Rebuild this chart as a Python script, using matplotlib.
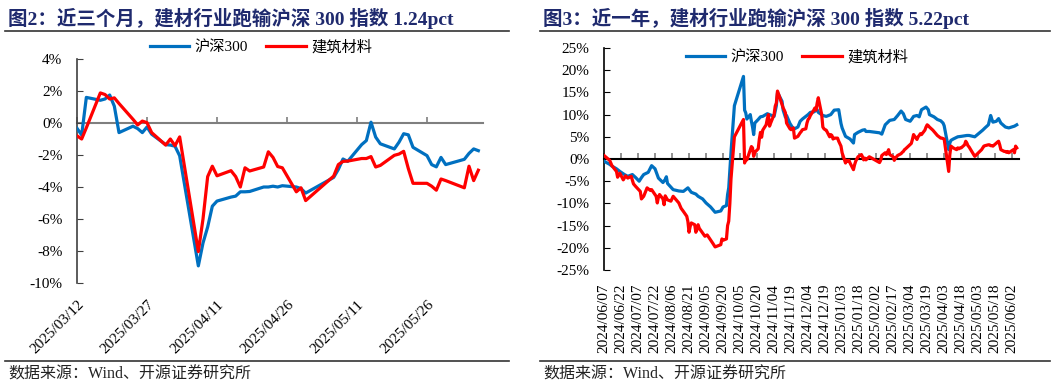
import matplotlib
matplotlib.use('Agg')
import matplotlib.pyplot as plt
from matplotlib.lines import Line2D
import matplotlib.dates as mdates
import pandas as pd
import numpy as np

plt.rcParams['font.family'] = ['Liberation Serif', 'Noto Sans CJK SC']
plt.rcParams['axes.unicode_minus'] = False

BLUE = '#0070C0'
RED = '#FF0000'
NAVY = '#1f2a6e'

# ---- 图2 近三个月 (%) ----
dates_3m = ['2025-03-12', '2025-03-13', '2025-03-14', '2025-03-17', '2025-03-18', '2025-03-19',
            '2025-03-20', '2025-03-21', '2025-03-24', '2025-03-25', '2025-03-26', '2025-03-27',
            '2025-03-28', '2025-03-31', '2025-04-01', '2025-04-02', '2025-04-03', '2025-04-07',
            '2025-04-08', '2025-04-09', '2025-04-10', '2025-04-11', '2025-04-14', '2025-04-15',
            '2025-04-16', '2025-04-17', '2025-04-18', '2025-04-21', '2025-04-22', '2025-04-23',
            '2025-04-24', '2025-04-25', '2025-04-28', '2025-04-29', '2025-04-30', '2025-05-06',
            '2025-05-07', '2025-05-08', '2025-05-09', '2025-05-12', '2025-05-13', '2025-05-14',
            '2025-05-15', '2025-05-16', '2025-05-19', '2025-05-20', '2025-05-21', '2025-05-22',
            '2025-05-23', '2025-05-26', '2025-05-27', '2025-05-28', '2025-05-29', '2025-05-30',
            '2025-06-03', '2025-06-04', '2025-06-05', '2025-06-06']
hs300_3m = [-0.33, -0.75, 1.6, 1.42, 1.5, 1.75, 1.05, -0.6, -0.2, -0.35, -0.6, -0.25, -0.7, -1.35,
            -1.38, -1.45, -2.05, -8.93, -7.5, -6.5, -5.2, -4.88, -4.63, -4.57, -4.3, -4.3, -4.28,
            -4.0, -4.0, -3.95, -4.0, -3.92, -4.0, -4.1, -4.38,
            -3.4, -2.9, -2.25, -2.4, -1.35, -1.1, 0.05, -0.88, -1.3, -1.62, -1.2, -0.67, -0.74,
            -1.52, -2.04, -2.6, -2.74, -2.15, -2.6, -2.27, -1.9, -1.62, -1.73]
jc_3m = [-0.8, -1.0, -0.3, 1.88, 1.78, 1.5, 1.57, 1.22, 0.23, -0.12, 0.12, 0.02, -0.6, -1.38,
         -1.0, -1.42, -0.87, -8.04, -6.0, -3.35, -2.7, -3.3, -2.98, -3.35, -4.0, -2.8, -3.0,
         -2.75, -1.8, -2.15, -2.72, -2.8, -4.3, -4.05, -4.85,
         -3.32, -2.6, -2.4, -2.38, -2.22, -2.22, -2.1, -2.75, -2.65, -2.02, -1.94, -1.77, -2.85,
         -3.77, -3.77, -3.95, -4.2, -3.5, -3.6, -4.05, -2.7, -3.6, -2.95]

# ---- 图3 近一年 (%) ----
hs_dates_1y = ['2024-06-07', '2024-06-12', '2024-06-14', '2024-06-18', '2024-06-20', '2024-06-21',
               '2024-06-25', '2024-06-28', '2024-07-02', '2024-07-05', '2024-07-08', '2024-07-10',
               '2024-07-12', '2024-07-16', '2024-07-19', '2024-07-22', '2024-07-24', '2024-07-25',
               '2024-07-29', '2024-07-31', '2024-08-01', '2024-08-02', '2024-08-07', '2024-08-12',
               '2024-08-16', '2024-08-20', '2024-08-23', '2024-08-27', '2024-08-29', '2024-09-02',
               '2024-09-05', '2024-09-09', '2024-09-11', '2024-09-13', '2024-09-18', '2024-09-20',
               '2024-09-23', '2024-09-24', '2024-09-25', '2024-09-26', '2024-09-27', '2024-09-30',
               '2024-10-08', '2024-10-09', '2024-10-10', '2024-10-11', '2024-10-14', '2024-10-15',
               '2024-10-16', '2024-10-17', '2024-10-18', '2024-10-21', '2024-10-23', '2024-10-25',
               '2024-10-29', '2024-10-31', '2024-11-04', '2024-11-06', '2024-11-07', '2024-11-08',
               '2024-11-11', '2024-11-12', '2024-11-14', '2024-11-15', '2024-11-18', '2024-11-20',
               '2024-11-22', '2024-11-25', '2024-11-27', '2024-11-29', '2024-12-02', '2024-12-04',
               '2024-12-06', '2024-12-09', '2024-12-12', '2024-12-13', '2024-12-17', '2024-12-20',
               '2024-12-24', '2024-12-27', '2024-12-31', '2025-01-02', '2025-01-03', '2025-01-06',
               '2025-01-08', '2025-01-10', '2025-01-13', '2025-01-14', '2025-01-17', '2025-01-21',
               '2025-01-23', '2025-01-24', '2025-01-27', '2025-02-05', '2025-02-07', '2025-02-10',
               '2025-02-14', '2025-02-18', '2025-02-21', '2025-02-24', '2025-02-26', '2025-02-28',
               '2025-03-04', '2025-03-06', '2025-03-07', '2025-03-10', '2025-03-12', '2025-03-14',
               '2025-03-18', '2025-03-20', '2025-03-21', '2025-03-25', '2025-03-28', '2025-03-31',
               '2025-04-02', '2025-04-03', '2025-04-07', '2025-04-08', '2025-04-09', '2025-04-11',
               '2025-04-15', '2025-04-18', '2025-04-23', '2025-04-25', '2025-04-30', '2025-05-07',
               '2025-05-09', '2025-05-12', '2025-05-14', '2025-05-15', '2025-05-16', '2025-05-19',
               '2025-05-21', '2025-05-23', '2025-05-27', '2025-05-30', '2025-06-04', '2025-06-06']
hs300_1y = [-0.5, -1.2, -1.6, -2.2, -2.6, -2.8, -3.5, -3.9, -3.5, -4.2, -5.0, -4.2,
            -3.5, -3.0, -1.5, -2.2, -3.6, -4.3, -5.3, -4.6, -4.0, -5.5, -6.9, -7.2,
            -7.3, -6.5, -7.5, -7.9, -8.4, -9.0, -9.9, -10.8, -11.4, -12.0, -11.7, -10.8,
            -10.5, -8.0, -6.5, -2.5, 1.5, 12.0, 18.6, 11.0, 10.4, 9.0, 10.0, 8.5,
            7.2, 5.5, 8.1, 8.9, 9.5, 9.6, 10.2, 10.0, 9.6, 12.0, 14.9, 14.5,
            13.0, 11.0, 9.4, 9.8, 8.0, 7.2, 6.8, 7.2, 8.5, 9.0, 9.6, 10.0,
            10.5, 10.6, 11.1, 10.5, 9.8, 9.6, 10.0, 11.0, 11.1, 8.0, 7.0, 5.1,
            4.8, 4.5, 3.6, 5.5, 6.0, 6.5, 6.6, 6.2, 6.2, 5.9, 5.6, 7.7,
            8.7, 8.9, 9.8, 10.8, 10.2, 8.9, 8.5, 9.2, 9.6, 9.8, 9.5, 11.1,
            11.7, 11.1, 10.0, 9.5, 8.9, 8.6, 8.1, 7.5, 2.1, 3.6, 4.2, 4.5,
            5.0, 5.1, 5.3, 5.3, 5.0, 6.5, 7.0, 7.7, 9.8, 9.0, 8.3, 8.5,
            9.1, 8.1, 7.2, 7.0, 7.4, 7.7]

jc_dates_1y = ['2024-06-07', '2024-06-12', '2024-06-14', '2024-06-18', '2024-06-19', '2024-06-21',
               '2024-06-24', '2024-06-26', '2024-06-28', '2024-07-01', '2024-07-03', '2024-07-05',
               '2024-07-09', '2024-07-10', '2024-07-12', '2024-07-15', '2024-07-18', '2024-07-19',
               '2024-07-23', '2024-07-24', '2024-07-25', '2024-07-26', '2024-07-29', '2024-07-30',
               '2024-07-31', '2024-08-02', '2024-08-05', '2024-08-07', '2024-08-09', '2024-08-12',
               '2024-08-14', '2024-08-16', '2024-08-19', '2024-08-20', '2024-08-21', '2024-08-22',
               '2024-08-23', '2024-08-26', '2024-08-27', '2024-08-28', '2024-08-29', '2024-08-30',
               '2024-09-02', '2024-09-04', '2024-09-06', '2024-09-10', '2024-09-11', '2024-09-13',
               '2024-09-18', '2024-09-19', '2024-09-20', '2024-09-23', '2024-09-24', '2024-09-25',
               '2024-09-26', '2024-09-27', '2024-09-30', '2024-10-08', '2024-10-09', '2024-10-10',
               '2024-10-11', '2024-10-14', '2024-10-15', '2024-10-16', '2024-10-17', '2024-10-18',
               '2024-10-21', '2024-10-22', '2024-10-23', '2024-10-24', '2024-10-25', '2024-10-28',
               '2024-10-29', '2024-10-30', '2024-10-31', '2024-11-01', '2024-11-04', '2024-11-05',
               '2024-11-06', '2024-11-07', '2024-11-08', '2024-11-11', '2024-11-12', '2024-11-13',
               '2024-11-14', '2024-11-15', '2024-11-18', '2024-11-19', '2024-11-20', '2024-11-21',
               '2024-11-22', '2024-11-25', '2024-11-26', '2024-11-27', '2024-11-28', '2024-11-29',
               '2024-12-02', '2024-12-03', '2024-12-04', '2024-12-05', '2024-12-06', '2024-12-09',
               '2024-12-10', '2024-12-11', '2024-12-12', '2024-12-13', '2024-12-16', '2024-12-17',
               '2024-12-18', '2024-12-19', '2024-12-20', '2024-12-23', '2024-12-24', '2024-12-25',
               '2024-12-26', '2024-12-27', '2024-12-30', '2024-12-31', '2025-01-02', '2025-01-03',
               '2025-01-06', '2025-01-07', '2025-01-08', '2025-01-09', '2025-01-10', '2025-01-13',
               '2025-01-14', '2025-01-15', '2025-01-16', '2025-01-17', '2025-01-20', '2025-01-21',
               '2025-01-22', '2025-01-23', '2025-01-24', '2025-01-27', '2025-02-05', '2025-02-06',
               '2025-02-07', '2025-02-10', '2025-02-11', '2025-02-12', '2025-02-13', '2025-02-14',
               '2025-02-17', '2025-02-18', '2025-02-19', '2025-02-20', '2025-02-21', '2025-02-24',
               '2025-02-25', '2025-02-26', '2025-02-27', '2025-02-28', '2025-03-03', '2025-03-04',
               '2025-03-05', '2025-03-06', '2025-03-07', '2025-03-10', '2025-03-11', '2025-03-12',
               '2025-03-13', '2025-03-14', '2025-03-17', '2025-03-18', '2025-03-19', '2025-03-20',
               '2025-03-21', '2025-03-24', '2025-03-26', '2025-03-28', '2025-03-31', '2025-04-01',
               '2025-04-02', '2025-04-03', '2025-04-07', '2025-04-08', '2025-04-09', '2025-04-10',
               '2025-04-11', '2025-04-14', '2025-04-15', '2025-04-16', '2025-04-17', '2025-04-18',
               '2025-04-21', '2025-04-22', '2025-04-23', '2025-04-24', '2025-04-25', '2025-04-28',
               '2025-04-29', '2025-04-30', '2025-05-06', '2025-05-07', '2025-05-08', '2025-05-09',
               '2025-05-12', '2025-05-13', '2025-05-14', '2025-05-15', '2025-05-16', '2025-05-19',
               '2025-05-20', '2025-05-21', '2025-05-22', '2025-05-23', '2025-05-26', '2025-05-27',
               '2025-05-28', '2025-05-29', '2025-05-30', '2025-06-03', '2025-06-04', '2025-06-05',
               '2025-06-06']
jc_1y = [0.8, -0.3, -1.5, -2.8, -4.1, -3.2, -4.7, -3.8, -4.3, -3.9, -5.6, -6.2,
         -7.3, -9.0, -8.4, -6.5, -7.1, -6.9, -8.4, -9.9, -8.6, -8.0, -9.0, -10.3,
         -8.3, -9.2, -9.5, -8.4, -9.0, -9.9, -11.1, -11.8, -12.9, -14.1, -16.5, -15.2,
         -14.4, -14.8, -16.5, -15.9, -14.8, -15.6, -16.7, -17.4, -17.1, -18.6, -19.0, -19.8,
         -19.3, -18.0, -18.3, -18.0, -15.0, -14.0, -10.0, -4.5, 5.0, 8.9, -0.9, 0.2,
         -0.2, 2.1, 2.8, 2.5, 0.6, 1.5, 2.3, 4.5, 6.0, 4.9, 6.5, 7.7,
         9.0, 10.0, 7.4, 8.1, 10.0, 11.9, 12.6, 15.3, 14.6, 12.3, 11.5, 11.0,
         10.4, 8.1, 6.8, 6.6, 6.8, 7.0, 4.7, 5.1, 5.5, 5.9, 6.2, 6.6,
         6.8, 8.1, 8.9, 9.2, 9.8, 11.0, 11.5, 11.0, 12.6, 13.8, 10.0, 7.2,
         6.8, 6.6, 6.5, 5.0, 5.5, 5.3, 4.5, 4.7, 4.7, 4.0, 2.9, 1.4,
         -0.9, -0.3, -0.5, -0.3, -0.9, -2.4, -1.3, -0.5, 0.0, 0.5, 1.0, 0.5,
         -0.2, 0.2, -0.2, 0.5, -0.8, -0.3, 0.8, 1.4, 1.0, 1.5, 2.1, 1.0,
         0.5, -0.3, 0.2, 0.5, 0.8, 1.2, 1.5, 1.7, 2.1, 2.3, 3.0, 3.2,
         3.5, 4.4, 5.5, 4.4, 5.0, 5.3, 5.7, 5.5, 6.5, 7.2, 7.7, 7.5,
         7.2, 6.5, 5.9, 5.3, 4.7, 4.7, 4.6, 4.5, -2.8, 1.0, 2.9, 2.7,
         2.5, 2.1, 2.5, 2.3, 2.5, 2.5, 3.2, 4.0, 3.6, 3.0, 2.7, 1.4,
         1.0, 0.6, 2.1, 2.5, 2.9, 3.0, 3.2, 3.2, 3.0, 3.0, 2.9, 3.6,
         3.8, 4.0, 3.2, 2.1, 1.7, 1.7, 1.5, 1.7, 1.4, 2.1, 1.4, 2.9,
         2.5]

series_names = ['沪深300', '建筑材料']
title_3m = '图2：近三个月，建材行业跑输沪深 300 指数 1.24pct'
title_1y = '图3：近一年，建材行业跑输沪深 300 指数 5.22pct'
source_text = '数据来源：Wind、开源证券研究所'

W, H = 1057, 386


def box(l, t, r, b):
    return [l / W, 1 - b / H, (r - l) / W, (b - t) / H]


def zero_axis(ax, ymin, ymax, ticks, line_color, tick_color):
    # horizontal axis drawn at 0 with upward tick marks
    sec = ax.secondary_xaxis((0 - ymin) / (ymax - ymin))
    sec.set_xticks(mdates.date2num(ticks))
    sec.tick_params(direction='out', length=4, width=1.2, color=tick_color,
                    labeltop=False, labelbottom=False)
    for s in sec.spines.values():
        s.set_color(line_color)
        s.set_linewidth(1.5)
    return sec


fig = plt.figure(figsize=(10.57, 3.86), dpi=100)

# ---------- left chart ----------
ax1 = fig.add_axes(box(77, 59, 483, 283))
d3 = pd.to_datetime(dates_3m)
ax1.plot(d3, hs300_3m, color=BLUE, lw=2.3, label=series_names[0], zorder=3)
ax1.plot(d3, jc_3m, color=RED, lw=2.3, label=series_names[1], zorder=4)
ax1.set_ylim(-10, 4)
ax1.set_yticks(np.arange(-10, 5, 2))
ax1.yaxis.set_major_formatter(lambda v, p: f'{v:.0f}%')
ax1.set_xlim(pd.Timestamp('2025-03-12'), pd.Timestamp('2025-06-07'))
ticks3 = pd.date_range('2025-03-12', periods=6, freq='15D')
ax1.set_xticks(ticks3)
ax1.set_xticklabels([t.strftime('%Y/%m/%d') for t in ticks3], rotation=45,
                    ha='right', va='top', rotation_mode='anchor')
ax1.tick_params(axis='x', length=0, pad=11, labelsize=11)
ax1.tick_params(axis='y', direction='in', length=4, color='#404040', labelsize=11, pad=10.5)
for s in ['top', 'right', 'bottom']:
    ax1.spines[s].set_visible(False)
ax1.spines['left'].set_color('#404040')
ax1.spines['left'].set_linewidth(1.2)
zero_axis(ax1, -10, 4, ticks3, '#7f7f7f', '#7f7f7f')
ax1.legend(loc='center', bbox_to_anchor=(261 / W, 1 - 47 / H), bbox_transform=fig.transFigure,
           ncol=2, frameon=False, fontsize=11, handlelength=2.6, handletextpad=0.35,
           columnspacing=1.2, borderpad=0)

# ---------- right chart ----------
ax2 = fig.add_axes(box(604, 48, 1019, 270))
ax2.plot(pd.to_datetime(hs_dates_1y), hs300_1y, color=BLUE, lw=2.3, label=series_names[0], zorder=3)
ax2.plot(pd.to_datetime(jc_dates_1y), jc_1y, color=RED, lw=2.3, label=series_names[1], zorder=4)
ax2.set_ylim(-25, 25)
ax2.set_yticks(np.arange(-25, 26, 5))
ax2.yaxis.set_major_formatter(lambda v, p: f'{v:.0f}%')
ax2.set_xlim(pd.Timestamp('2024-06-07'), pd.Timestamp('2025-06-08'))
ticks1y = pd.date_range('2024-06-07', '2025-06-06', freq='15D')
ax2.set_xticks(ticks1y)
ax2.set_xticklabels([t.strftime('%Y/%m/%d') for t in ticks1y], rotation=90,
                    ha='center', va='top')
ax2.tick_params(axis='x', length=0, pad=10, labelsize=11)
ax2.tick_params(axis='y', direction='in', length=4, color='#000000', labelsize=11, pad=10.5)
for s in ['top', 'right', 'bottom']:
    ax2.spines[s].set_visible(False)
ax2.spines['left'].set_color('#000000')
ax2.spines['left'].set_linewidth(1.2)
zero_axis(ax2, -25, 25, ticks1y, '#000000', '#7f7f7f')
ax2.legend(loc='center', bbox_to_anchor=(797 / W, 1 - 57 / H), bbox_transform=fig.transFigure,
           ncol=2, frameon=False, fontsize=11, handlelength=2.6, handletextpad=0.35,
           columnspacing=1.2, borderpad=0)

# ---------- titles, rules and source ----------
for x0, x1, title in [(5, 509, title_3m), (540, 1050, title_1y)]:
    fig.text((x0 + 3) / W, 1 - 18 / H, title, fontsize=14, fontweight='bold',
             color=NAVY, ha='left', va='center')
    fig.add_artist(Line2D([x0 / W, x1 / W], [1 - 31 / H] * 2, color='#333333', lw=1.2,
                          transform=fig.transFigure))
    fig.add_artist(Line2D([x0 / W, x1 / W], [1 - 361 / H] * 2, color='#333333', lw=1.2,
                          transform=fig.transFigure))
    fig.text((x0 + 3) / W, 1 - 375 / H, source_text, fontsize=11.5, color='#222222',
             ha='left', va='center')

fig.savefig('out.png', dpi=100)
